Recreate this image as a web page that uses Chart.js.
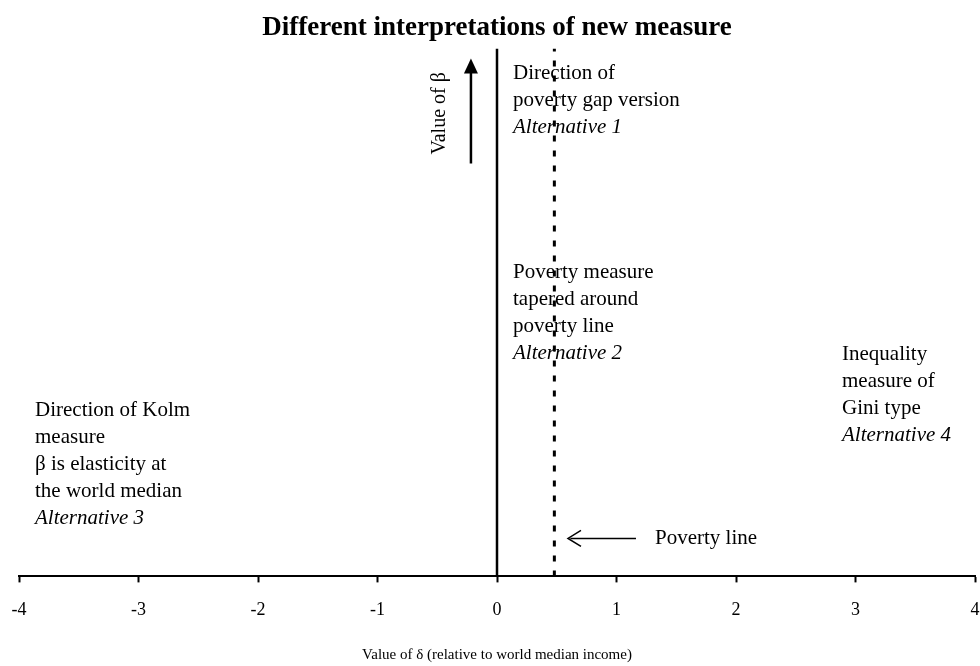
<!DOCTYPE html>
<html>
<head>
<meta charset="utf-8">
<script src="https://cdn.jsdelivr.net/npm/chart.js@4"></script>
<style>
  html, body { margin: 0; padding: 0; background: #fff; }
  #wrap { width: 980px; height: 666px; }
</style>
</head>
<body>
<div id="wrap"><canvas id="c" width="980" height="666"></canvas></div>
<script>
// ---- data ----
const xTicks = [-4, -3, -2, -1, 0, 1, 2, 3, 4];
const yAxisLine = [{x: 0, y: 0}, {x: 0, y: 10}];          // β axis at δ = 0
const povertyLine = [{x: 0.48, y: 0}, {x: 0.48, y: 10}];  // dotted poverty line
const betaArrow = [{x: -0.218, y: 7.82}, {x: -0.218, y: 9.81}];
const povertyArrow = [{x: 1.163, y: 0.72}, {x: 0.594, y: 0.72}];

const annotations = [
  {x: 0.134, y: 9.53, lines: ["Direction of", "poverty gap version"], italic: "Alternative 1"},
  {x: 0.134, y: 5.76, lines: ["Poverty measure", "tapered around", "poverty line"], italic: "Alternative 2"},
  {x: -3.866, y: 3.14, lines: ["Direction of Kolm", "measure", "β is elasticity at", "the world median"], italic: "Alternative 3"},
  {x: 2.887, y: 4.20, lines: ["Inequality", "measure of", "Gini type"], italic: "Alternative 4"},
  {x: 1.322, y: 0.72, lines: ["Poverty line"], italic: null}
];
const betaLabel = {x: -0.477, y: 8.77, text: "Value of β"};

const SERIF = "'Liberation Serif', 'DejaVu Serif', serif";

const annotPlugin = {
  id: 'annot',
  afterDatasetsDraw(chart) {
    const ctx = chart.ctx, xs = chart.scales.x, ys = chart.scales.y;
    ctx.save();
    ctx.fillStyle = '#000';
    ctx.textBaseline = 'middle';
    ctx.textAlign = 'left';
    const lh = 27;
    annotations.forEach(a => {
      const px = xs.getPixelForValue(a.x), py = ys.getPixelForValue(a.y);
      let i = 0;
      ctx.font = "21px " + SERIF;
      a.lines.forEach(t => { ctx.fillText(t, px, py + lh * i); i++; });
      if (a.italic) {
        ctx.font = "italic 21px " + SERIF;
        ctx.fillText(a.italic, px, py + lh * i);
      }
    });
    const bx = xs.getPixelForValue(betaLabel.x), by = ys.getPixelForValue(betaLabel.y);
    ctx.translate(bx, by);
    ctx.rotate(-Math.PI / 2);
    ctx.textAlign = 'center';
    ctx.font = "20px " + SERIF;
    ctx.fillText(betaLabel.text, 0, 0);
    ctx.restore();

    ctx.save();
    ctx.fillStyle = '#000';
    const ax = xs.getPixelForValue(betaArrow[1].x), ay = ys.getPixelForValue(betaArrow[1].y);
    ctx.beginPath();
    ctx.moveTo(ax, ay);
    ctx.lineTo(ax - 7, ay + 15);
    ctx.lineTo(ax + 7, ay + 15);
    ctx.closePath();
    ctx.fill();
    const hx = xs.getPixelForValue(povertyArrow[1].x), hy = ys.getPixelForValue(povertyArrow[1].y);
    ctx.strokeStyle = '#000';
    ctx.lineWidth = 1.5;
    ctx.beginPath();
    ctx.moveTo(hx + 13, hy - 8);
    ctx.lineTo(hx, hy);
    ctx.lineTo(hx + 13, hy + 8);
    ctx.stroke();
    ctx.restore();
  }
};

new Chart(document.getElementById('c'), {
  type: 'scatter',
  data: {
    datasets: [
      {data: yAxisLine, showLine: true, borderColor: '#000', borderWidth: 2.5, pointRadius: 0},
      {data: povertyLine, showLine: true, borderColor: '#000', borderWidth: 3, borderDash: [6, 9], pointRadius: 0},
      {data: betaArrow.map((p, i) => i === 1 ? {x: p.x, y: p.y - 0.2} : p), showLine: true, borderColor: '#000', borderWidth: 2.5, pointRadius: 0},
      {data: povertyArrow.map((p, i) => i === 1 ? {x: p.x + 0.02, y: p.y} : p), showLine: true, borderColor: '#000', borderWidth: 1.5, pointRadius: 0}
    ]
  },
  options: {
    responsive: false,
    animation: false,
    layout: {padding: {left: 19, right: 5, top: 0, bottom: 2}},
    plugins: {
      legend: {display: false},
      tooltip: {enabled: false},
      title: {
        display: true,
        text: 'Different interpretations of new measure',
        color: '#000',
        font: {family: SERIF, size: 27, weight: 'bold'},
        padding: {top: 12, bottom: 4}
      }
    },
    scales: {
      x: {
        type: 'linear',
        min: -4, max: 4,
        afterBuildTicks: s => { s.ticks = xTicks.map(v => ({value: v})); },
        afterFit: s => { s.paddingLeft = 0; s.paddingRight = 0; },
        grid: {display: true, drawOnChartArea: false, drawTicks: true, tickLength: 6, tickWidth: 2, tickColor: '#000'},
        border: {display: true, color: '#000', width: 2},
        ticks: {color: '#000', font: {family: SERIF, size: 18}, padding: 17, maxRotation: 0},
        title: {display: true, text: 'Value of δ (relative to world median income)', color: '#000',
                font: {family: SERIF, size: 15}, padding: {top: 8, bottom: 0}}
      },
      y: {type: 'linear', min: 0, max: 10, display: false}
    }
  },
  plugins: [annotPlugin]
});
</script>
</body>
</html>
